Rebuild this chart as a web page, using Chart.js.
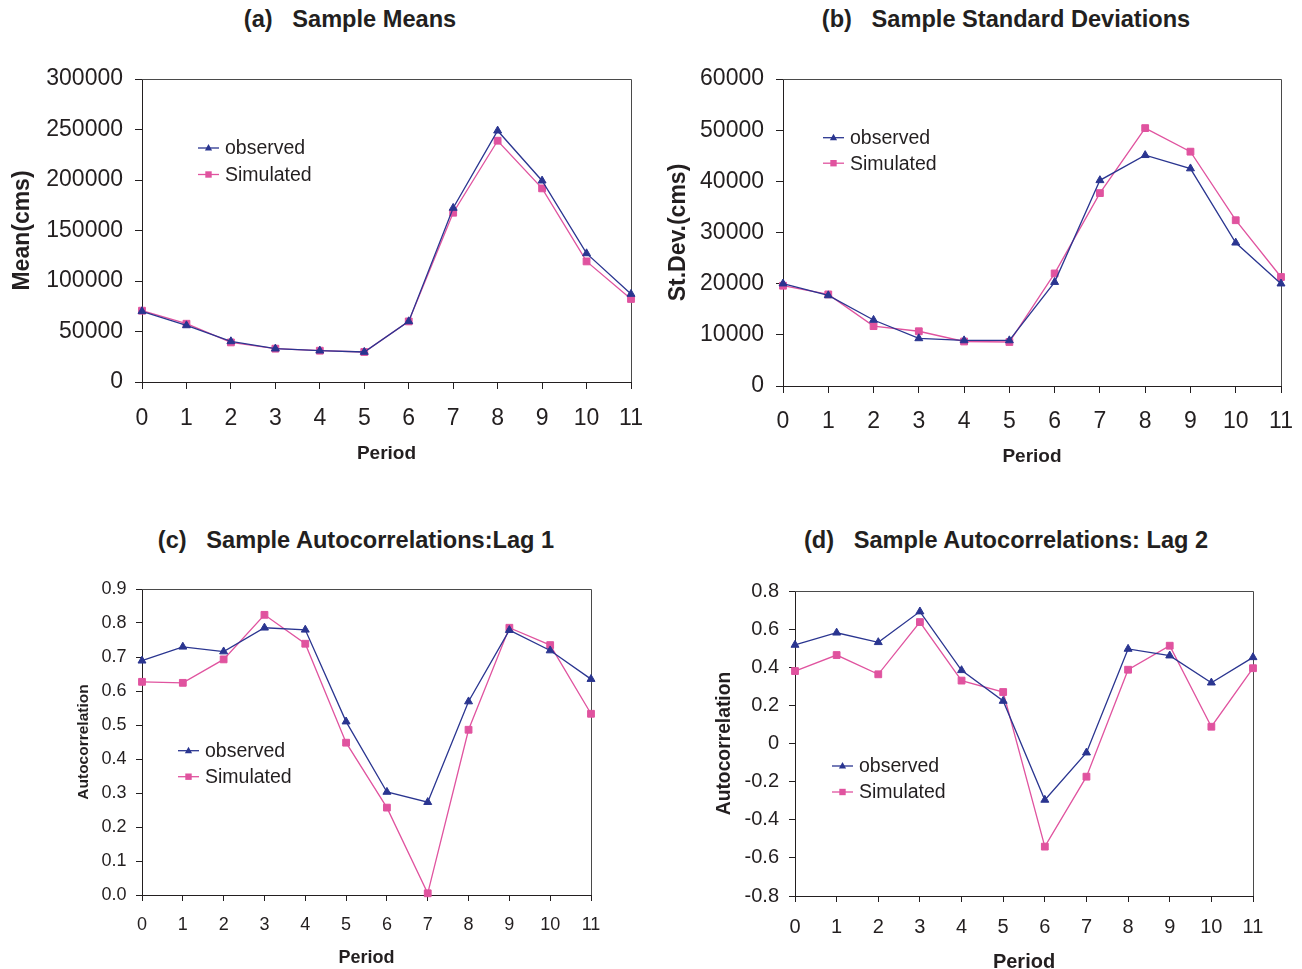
<!DOCTYPE html>
<html>
<head>
<meta charset="utf-8">
<script src="https://cdn.jsdelivr.net/npm/chart.js@4.4.1/dist/chart.umd.min.js"></script>
<style>
  html, body { margin: 0; padding: 0; background: #fff; overflow: hidden; width: 1302px; height: 969px; }
  canvas { position: absolute; }
  .ttl { position: absolute; width: 700px; text-align: center; white-space: pre; color: #231f20;
         font: bold 23.6px "Liberation Sans", Arial, sans-serif; line-height: 24px; }
</style>
</head>
<body>
<div class="ttl" style="left:0px;top:7px;">(a)   Sample Means</div>
<div class="ttl" style="left:656px;top:7px;">(b)   Sample Standard Deviations</div>
<div class="ttl" style="left:6px;top:528px;">(c)   Sample Autocorrelations:Lag 1</div>
<div class="ttl" style="left:656px;top:528px;">(d)   Sample Autocorrelations: Lag 2</div>

<canvas id="chartA" width="660" height="484" style="left:0px;top:0px;"></canvas>
<canvas id="chartB" width="660" height="484" style="left:651px;top:0px;"></canvas>
<canvas id="chartC" width="651" height="500" style="left:0px;top:484px;"></canvas>
<canvas id="chartD" width="651" height="500" style="left:651px;top:484px;"></canvas>

<script>
  // periods on the x axis
  const periods = ['0', '1', '2', '3', '4', '5', '6', '7', '8', '9', '10', '11'];

  // (a) sample means
  const meanObs = [70000, 56000, 40200, 33000, 31000, 29700, 60000, 172300, 248800, 199300, 127300, 87100];
  const meanSim = [70600, 57700, 39200, 33000, 31000, 29700, 60000, 167600, 238900, 191700, 119400, 82200];

  // (b) sample standard deviations
  const sdObs = [20000, 17700, 12900, 9300, 8900, 8900, 20300, 40200, 45100, 42500, 28000, 20000];
  const sdSim = [19600, 17900, 11700, 10700, 8700, 8600, 22000, 37700, 50400, 45800, 32400, 21300];

  // (c) lag 1 autocorrelations
  const lag1Obs = [0.689, 0.730, 0.716, 0.786, 0.780, 0.510, 0.303, 0.273, 0.569, 0.779, 0.719, 0.635];
  const lag1Sim = [0.627, 0.624, 0.693, 0.824, 0.739, 0.448, 0.257, 0.005, 0.486, 0.786, 0.735, 0.533];

  // (d) lag 2 autocorrelations
  const lag2Obs = [0.517, 0.581, 0.531, 0.692, 0.384, 0.223, -0.296, -0.048, 0.496, 0.461, 0.319, 0.452];
  const lag2Sim = [0.380, 0.464, 0.363, 0.637, 0.330, 0.270, -0.541, -0.174, 0.387, 0.513, 0.088, 0.395];

  const navy = '#2a3590';
  const pink = '#e0539f';
  const ink = '#231f20';
  const fam = '"Liberation Sans", Arial, Helvetica, sans-serif';

  // top and right edge of the plot box
  const frame = {
    id: 'frame',
    beforeDatasetsDraw(chart) {
      const a = chart.chartArea, c = chart.ctx;
      c.save();
      c.strokeStyle = '#4a4a4a';
      c.lineWidth = 1;
      c.beginPath();
      c.moveTo(Math.round(a.left), Math.round(a.top) + 0.5);
      c.lineTo(Math.round(a.right) + 0.5, Math.round(a.top) + 0.5);
      c.lineTo(Math.round(a.right) + 0.5, Math.round(a.bottom));
      c.stroke();
      c.restore();
    }
  };

  // legend drawn inside the plot area
  const innerLegend = {
    id: 'innerLegend',
    afterDatasetsDraw(chart, args, o) {
      const c = chart.ctx;
      c.save();
      c.font = o.size + 'px ' + fam;
      c.textBaseline = 'middle';
      chart.data.datasets.forEach((ds, i) => {
        const y = o.y + i * o.gap;
        c.strokeStyle = ds.borderColor;
        c.lineWidth = 1.3;
        c.beginPath();
        c.moveTo(o.x, y);
        c.lineTo(o.x + 21, y);
        c.stroke();
        c.fillStyle = ds.borderColor;
        const mx = o.x + 10.5;
        c.beginPath();
        if (ds.pointStyle === 'triangle') {
          c.moveTo(mx, y - 4);
          c.lineTo(mx + 3.6, y + 2.5);
          c.lineTo(mx - 3.6, y + 2.5);
          c.closePath();
        } else {
          c.rect(mx - 3.2, y - 3.2, 6.4, 6.4);
        }
        c.fill();
        c.fillStyle = ink;
        c.fillText(ds.label, o.x + 27, y + 1);
      });
      c.restore();
    }
  };

  function makeChart(id, g) {
    return new Chart(document.getElementById(id), {
      type: 'line',
      data: {
        labels: periods,
        datasets: [
          { label: 'observed', data: g.obs, borderColor: navy, backgroundColor: navy,
            pointStyle: 'triangle', pointRadius: 4.6, pointBorderWidth: 1, borderWidth: 1.3, clip: false },
          { label: 'Simulated', data: g.sim, borderColor: pink, backgroundColor: pink,
            pointStyle: 'rect', pointRadius: 4.8, pointBorderWidth: 1, borderWidth: 1.3, clip: false }
        ]
      },
      options: {
        responsive: false,
        animation: false,
        layout: { padding: { top: g.top, right: g.right, left: 0, bottom: 0 } },
        plugins: {
          legend: { display: false },
          tooltip: { enabled: false },
          innerLegend: g.legend
        },
        scales: {
          x: {
            type: 'category',
            offset: false,
            grid: { drawOnChartArea: false, drawTicks: true, tickLength: g.tl, color: ink },
            border: { color: ink, width: 1 },
            ticks: { autoSkip: false, maxRotation: 0, padding: g.xPad, color: ink, font: { family: fam, size: g.tick } },
            title: { display: true, text: 'Period', color: ink,
                     font: { family: fam, size: g.xt, weight: 'bold', lineHeight: 1.2 },
                     padding: { top: 0, bottom: g.xtPad } },
            afterFit: s => { s.height = g.xh; }
          },
          y: {
            min: g.min, max: g.max,
            grid: { drawOnChartArea: false, drawTicks: true, tickLength: g.tl, color: ink },
            border: { color: ink, width: 1 },
            ticks: { stepSize: g.step, padding: g.yPad, color: ink, font: { family: fam, size: g.tick }, callback: g.fmt },
            title: { display: true, text: g.ytitle, color: ink,
                     font: { family: fam, size: g.yt, weight: 'bold', lineHeight: 1.2 },
                     padding: { top: g.ytPad, bottom: 0 } },
            afterFit: s => { s.width = g.yw; }
          }
        }
      },
      plugins: [frame, innerLegend]
    });
  }

  const plain = v => String(v);

  makeChart('chartA', {
    obs: meanObs, sim: meanSim, min: 0, max: 300000, step: 50000, fmt: plain,
    top: 79, right: 29, yw: 142, xh: 102, tl: 7, yPad: 12, xPad: 16, tick: 23,
    ytitle: 'Mean(cms)', yt: 23, ytPad: 8.7, xt: 19, xtPad: 18.6,
    legend: { x: 198, y: 148, gap: 26.5, size: 19.5 }
  });

  makeChart('chartB', {
    obs: sdObs, sim: sdSim, min: 0, max: 60000, step: 10000, fmt: plain,
    top: 79, right: 30, yw: 132, xh: 98, tl: 7, yPad: 12, xPad: 15, tick: 23,
    ytitle: 'St.Dev.(cms)', yt: 23, ytPad: 14.2, xt: 19, xtPad: 15.6,
    legend: { x: 172, y: 137.7, gap: 25.5, size: 19.5 }
  });

  makeChart('chartC', {
    obs: lag1Obs, sim: lag1Sim, min: 0, max: 0.9, step: 0.1, fmt: v => v.toFixed(1),
    top: 105, right: 60, yw: 142, xh: 89, tl: 6, yPad: 9.6, xPad: 13, tick: 18,
    ytitle: 'Autocorrelation', yt: 15.5, ytPad: 74.7, xt: 18, xtPad: 15.2,
    legend: { x: 178, y: 266.7, gap: 26, size: 19.5 }
  });

  makeChart('chartD', {
    obs: lag2Obs, sim: lag2Sim, min: -0.8, max: 0.8, step: 0.2,
    fmt: v => Math.abs(v) < 1e-9 ? '0' : v.toFixed(1),
    top: 107, right: 49, yw: 144, xh: 88, tl: 6, yPad: 10, xPad: 13.8, tick: 20,
    ytitle: 'Autocorrelation', yt: 19.3, ytPad: 62, xt: 20, xtPad: 10,
    legend: { x: 181, y: 282, gap: 26, size: 19.5 }
  });
</script>
</body>
</html>
